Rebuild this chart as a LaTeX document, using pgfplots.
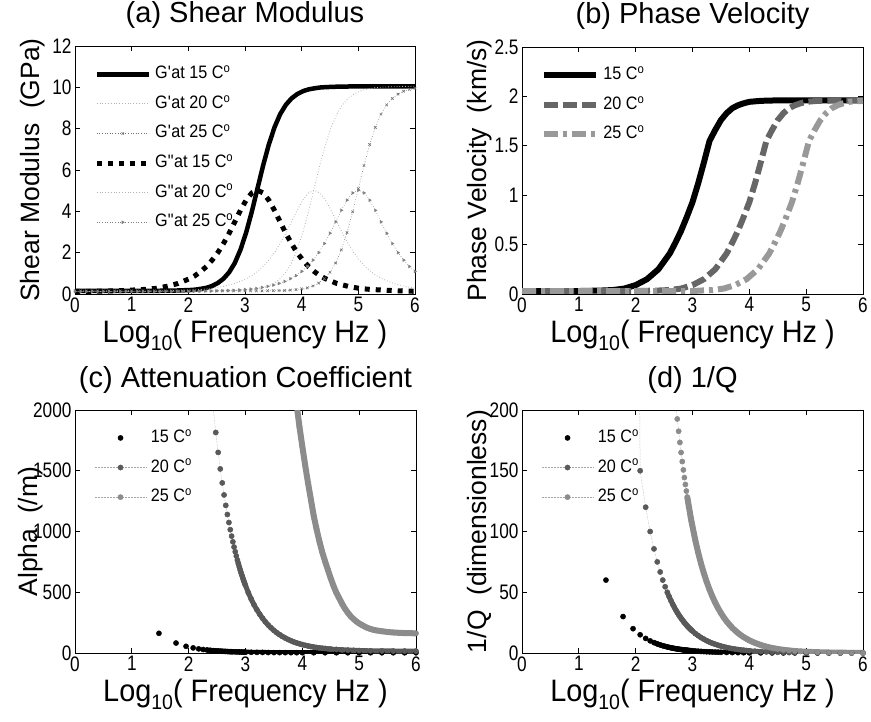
\documentclass[border=0pt]{standalone}
\usepackage{fontspec}
\setmainfont{Liberation Sans}
\newfontfamily\tickfont{Liberation Sans}[FakeStretch=0.82]
\newfontfamily\xlabfont{Liberation Sans}[FakeStretch=0.93]
\newfontfamily\legfont{Liberation Sans}[FakeStretch=0.9]
\usepackage{pgfplots}
\pgfplotsset{compat=1.18}
\newcommand{\xlab}{Log\raisebox{-8pt}{\fontsize{21}{21}\selectfont 10}( Frequency Hz )}
\pgfplotsset{
 myaxis/.style={
  scale only axis, anchor=south west,
  xmin=0, xmax=6, xtick={0,1,2,3,4,5,6},
  tick align=inside, major tick length=5pt,
  axis line style={line width=0.8pt},
  every tick/.style={line width=0.8pt, black},
  tick label style={font=\tickfont\fontsize{21}{21}\selectfont},
  /pgf/number format/assume math mode=true,
  /pgf/number format/1000 sep={},
  scaled ticks=false,
  xlabel={\xlab},
  xlabel style={font=\xlabfont\fontsize{31}{31}\selectfont, at={(axis description cs:0.5,0)}, anchor=base, yshift=-49pt},
  ylabel style={font=\fontsize{26.5}{26.5}\selectfont, anchor=base},
  title style={font=\fontsize{29}{29}\selectfont, at={(axis description cs:0.5,1)}, anchor=base, yshift=17pt},
  legend style={draw=none, fill=none, anchor=north west, at={(axis description cs:0.056,0.925)},
    font=\legfont\fontsize{18}{18}\selectfont, inner sep=0pt, row sep=10.6pt, column sep=3pt,
    nodes={inner sep=1pt, text height=13pt, text depth=4pt}},
  legend cell align=left,
  legend image code/.code={\draw[mark repeat=2,mark phase=2,#1] plot coordinates {(0pt,0pt) (26pt,0pt) (52pt,0pt)};},
 },
 dotleg/.style={legend image code/.code={\draw[#1] plot coordinates {(26pt,0pt)};}},
}
\begin{document}
\begin{tikzpicture}
\path[use as bounding box] (0pt,0pt) rectangle (871pt,721pt);

% ---------------- (a)
\begin{axis}[myaxis, at={(75pt,427pt)}, width=340pt, height=248pt,
  ymin=0, ymax=12, ytick={0,2,4,6,8,10,12},
  ylabel={Shear Modulus\ \ (GPa)},
  ylabel style={at={(axis description cs:-0.105,0.5)}},
  title={(a) Shear Modulus}]
\addplot[black, line width=4.5pt, line join=round] coordinates {
(0,0.15) (0.72,0.15) (1.22,0.15) (1.62,0.16) (1.82,0.17) (2.02,0.19) (2.12,0.21) (2.22,0.25) (2.32,0.30) (2.42,0.39) (2.52,0.53) (2.62,0.74) (2.72,1.05) (2.82,1.50) (2.92,2.14) (3.02,2.97) (3.12,3.98) (3.22,5.10) (3.32,6.22) (3.42,7.23) (3.52,8.06) (3.62,8.70) (3.72,9.15) (3.82,9.46) (3.92,9.67) (4.02,9.81) (4.12,9.90) (4.22,9.95) (4.32,9.99) (4.42,10.01) (4.62,10.03) (4.82,10.04) (5.22,10.05) (6,10.05)};
\addlegendentry{G\textquotesingle at 15 C\textsuperscript{o}}
\addplot[black!30, line width=0.8pt, dotted] coordinates {
(0,0.15) (1,0.15) (2.22,0.15) (2.62,0.16) (2.82,0.17) (3.02,0.19) (3.12,0.21) (3.22,0.25) (3.32,0.30) (3.42,0.39) (3.52,0.53) (3.62,0.74) (3.72,1.05) (3.82,1.50) (3.92,2.14) (4.02,2.97) (4.12,3.98) (4.22,5.10) (4.32,6.22) (4.42,7.23) (4.52,8.06) (4.62,8.70) (4.72,9.15) (4.82,9.46) (4.92,9.67) (5.02,9.81) (5.12,9.90) (5.22,9.95) (5.32,9.99) (5.42,10.01) (5.62,10.03) (5.82,10.04) (6,10.05)};
\addlegendentry{G\textquotesingle at 20 C\textsuperscript{o}}
\addplot[black!55, line width=0.6pt, dotted, mark=x, mark size=1.8pt, mark options={solid}] coordinates {
(0,0.15) (0.1,0.15) (0.2,0.15) (0.3,0.15) (0.4,0.15) (0.5,0.15) (0.6,0.15) (0.7,0.15) (0.8,0.15) (0.9,0.15) (1.0,0.15) (1.1,0.15) (1.2,0.15) (1.3,0.15) (1.4,0.15) (1.5,0.15) (1.6,0.15) (1.7,0.15) (1.8,0.15) (1.9,0.15) (2.0,0.15) (2.1,0.15) (2.2,0.15) (2.3,0.15) (2.4,0.15) (2.5,0.15) (2.6,0.15) (2.7,0.15) (2.8,0.15) (2.9,0.15) (3.0,0.15) (3.1,0.15) (3.2,0.15) (3.3,0.15) (3.4,0.16) (3.5,0.16) (3.6,0.17) (3.7,0.17) (3.8,0.19) (3.9,0.21) (4.0,0.25) (4.1,0.30) (4.2,0.39) (4.3,0.53) (4.4,0.74) (4.5,1.05) (4.6,1.50) (4.7,2.14) (4.8,2.97) (4.9,3.98) (5.0,5.10) (5.1,6.22) (5.2,7.23) (5.3,8.06) (5.4,8.70) (5.5,9.15) (5.6,9.46) (5.7,9.67) (5.8,9.81) (5.9,9.90) (6.0,9.95)};
\addlegendentry{G\textquotesingle at 25 C\textsuperscript{o}}
\addplot[black, line width=5pt, dash pattern=on 5pt off 6pt] coordinates {
(0,0.12) (0.22,0.13) (0.72,0.15) (1.22,0.22) (1.42,0.27) (1.62,0.37) (1.82,0.51) (2.02,0.74) (2.12,0.89) (2.22,1.09) (2.32,1.33) (2.42,1.64) (2.52,2.00) (2.62,2.44) (2.72,2.94) (2.82,3.49) (2.92,4.05) (3.02,4.54) (3.12,4.89) (3.22,5.02) (3.32,4.89) (3.42,4.54) (3.52,4.05) (3.62,3.49) (3.72,2.94) (3.82,2.44) (3.92,2.00) (4.02,1.64) (4.12,1.33) (4.22,1.09) (4.32,0.89) (4.42,0.74) (4.62,0.51) (4.82,0.37) (5.02,0.27) (5.22,0.22) (5.72,0.15) (6,0.13)};
\addlegendentry{G\textquotedbl at 15 C\textsuperscript{o}}
\addplot[black!30, line width=0.8pt, dotted] coordinates {
(0,0.12) (1.22,0.13) (1.72,0.15) (2.22,0.22) (2.42,0.27) (2.62,0.37) (2.82,0.51) (3.02,0.74) (3.12,0.89) (3.22,1.09) (3.32,1.33) (3.42,1.64) (3.52,2.00) (3.62,2.44) (3.72,2.94) (3.82,3.49) (3.92,4.05) (4.02,4.54) (4.12,4.89) (4.22,5.02) (4.32,4.89) (4.42,4.54) (4.52,4.05) (4.62,3.49) (4.72,2.94) (4.82,2.44) (4.92,2.00) (5.02,1.64) (5.12,1.33) (5.22,1.09) (5.32,0.89) (5.42,0.74) (5.62,0.51) (5.82,0.37) (6,0.28)};
\addlegendentry{G\textquotedbl at 20 C\textsuperscript{o}}
\addplot[black!50, line width=0.6pt, dotted, mark=triangle*, mark size=1.5pt, mark options={solid, rotate=-90}] coordinates {
(0,0.12) (0.1,0.12) (0.2,0.12) (0.3,0.12) (0.4,0.12) (0.5,0.12) (0.6,0.12) (0.7,0.12) (0.8,0.12) (0.9,0.12) (1.0,0.12) (1.1,0.12) (1.2,0.12) (1.3,0.12) (1.4,0.12) (1.5,0.12) (1.6,0.12) (1.7,0.12) (1.8,0.12) (1.9,0.12) (2.0,0.13) (2.1,0.13) (2.2,0.13) (2.3,0.14) (2.4,0.14) (2.5,0.15) (2.6,0.16) (2.7,0.17) (2.8,0.18) (2.9,0.20) (3.0,0.22) (3.1,0.24) (3.2,0.27) (3.3,0.32) (3.4,0.37) (3.5,0.43) (3.6,0.51) (3.7,0.61) (3.8,0.74) (3.9,0.89) (4.0,1.09) (4.1,1.33) (4.2,1.64) (4.3,2.00) (4.4,2.44) (4.5,2.94) (4.6,3.49) (4.7,4.05) (4.8,4.54) (4.9,4.89) (5.0,5.02) (5.1,4.89) (5.2,4.54) (5.3,4.05) (5.4,3.49) (5.5,2.94) (5.6,2.44) (5.7,2.00) (5.8,1.64) (5.9,1.33) (6.0,1.09)};
\addlegendentry{G\textquotedbl at 25 C\textsuperscript{o}}
\end{axis}

% ---------------- (b)
\begin{axis}[myaxis, at={(522pt,427pt)}, width=341pt, height=247pt,
  ymin=0, ymax=2.5, ytick={0,0.5,1,1.5,2,2.5},
  ylabel={Phase Velocity\ \ (km/s)},
  ylabel style={at={(axis description cs:-0.105,0.5)}},
  title={(b) Phase Velocity}]
\addplot[black, line width=6pt, line join=round] coordinates {
(0,0.03) (0.5,0.03) (1.0,0.03) (1.4,0.035) (1.6,0.04) (1.8,0.055) (2.0,0.09) (2.2,0.15) (2.4,0.25) (2.6,0.41) (2.7,0.52) (2.8,0.64) (2.9,0.78) (3.0,0.93) (3.1,1.12) (3.2,1.33) (3.3,1.55) (3.4,1.66) (3.5,1.76) (3.6,1.83) (3.7,1.88) (3.8,1.91) (3.9,1.93) (4.0,1.945) (4.2,1.955) (4.5,1.96) (5.0,1.96) (6.0,1.96)};
\addlegendentry{15 C\textsuperscript{o}}
\addplot[black!60, line width=6pt, dash pattern=on 14pt off 5pt] coordinates {
(0,0.03) (1.0,0.03) (2.0,0.03) (2.4,0.035) (2.6,0.04) (2.8,0.055) (3.0,0.09) (3.2,0.15) (3.4,0.25) (3.6,0.41) (3.7,0.52) (3.8,0.64) (3.9,0.78) (4.0,0.93) (4.1,1.12) (4.2,1.33) (4.3,1.55) (4.4,1.66) (4.5,1.76) (4.6,1.83) (4.7,1.88) (4.8,1.91) (4.9,1.93) (5.0,1.945) (5.2,1.955) (5.5,1.96) (6.0,1.96)};
\addlegendentry{20 C\textsuperscript{o}}
\addplot[black!40, line width=6pt, dash pattern=on 14pt off 5pt on 4pt off 5pt] coordinates {
(0,0.03) (2.0,0.03) (3.0,0.03) (3.15,0.035) (3.35,0.04) (3.55,0.055) (3.75,0.09) (3.95,0.15) (4.15,0.25) (4.35,0.41) (4.45,0.52) (4.55,0.64) (4.65,0.78) (4.75,0.93) (4.85,1.12) (4.95,1.33) (5.05,1.55) (5.15,1.66) (5.25,1.76) (5.35,1.83) (5.45,1.88) (5.55,1.91) (5.65,1.93) (5.75,1.945) (6.0,1.955)};
\addlegendentry{25 C\textsuperscript{o}}
\end{axis}

% ---------------- (c)
\begin{axis}[myaxis, at={(75pt,68pt)}, width=341pt, height=243pt,
  ymin=0, ymax=2000, ytick={0,500,1000,1500,2000},
  ylabel={Alpha\ \ (/m)},
  ylabel style={at={(axis description cs:-0.11,0.5)}},
  xlabel style={yshift=1pt},
  title={(c) Attenuation Coefficient}]
\addplot[only marks, mark=*, mark size=2.6pt, black, dotleg] coordinates {
(1.477,162) (1.778,82) (1.954,55) (2.079,42) (2.176,34) (2.255,28.7) (2.322,24.9) (2.380,22) (2.431,19.8) (2.477,18) (2.519,16.5) (2.556,15.3) (2.591,14.3) (2.623,13.4) (2.653,12.7) (2.681,12) (2.708,11.4) (2.732,10.9) (2.756,10.4) (2.778,10) (2.820,9.3) (2.857,8.7) (2.892,8.2) (2.924,7.7) (2.954,7.3) (2.982,7.0) (3.0,6.8) (3.1,5.8) (3.2,5.0) (3.3,4.4) (3.4,3.9) (3.5,3.5) (3.6,3.2) (3.7,3.0) (3.8,2.8) (3.9,2.6) (4.0,2.5) (4.2,2.3) (4.4,2.2) (4.6,2.1) (4.8,2.1) (5.0,2.05) (5.2,2.0) (5.4,2.0) (5.6,2.0) (5.8,2.0) (6.0,2.0)};
\addlegendentry{15 C\textsuperscript{o}}
\addplot[black!35, line width=0.5pt, densely dotted, mark=*, mark size=2.6pt, mark options={solid, fill=black!65, draw=black!65}] coordinates {
(2.431,2015) (2.477,1815) (2.519,1651) (2.556,1515) (2.591,1400) (2.623,1301) (2.653,1215) (2.681,1140) (2.708,1074) (2.732,1015) (2.756,962) (2.778,915) (2.799,872) (2.820,833) (2.839,798) (2.857,765) (2.875,735) (2.892,707) (2.908,682) (2.924,658) (2.940,636) (2.954,615) (2.968,596) (2.982,578) (2.996,560) (3.05,496) (3.1,444) (3.15,397) (3.2,356) (3.25,319) (3.3,286) (3.35,256) (3.4,230) (3.45,207) (3.5,186) (3.55,167) (3.6,151) (3.65,136) (3.7,123) (3.75,111) (3.8,101) (3.85,91) (3.9,83) (3.95,76) (4.0,69) (4.05,63) (4.1,58) (4.15,53) (4.2,49) (4.25,45) (4.3,42) (4.35,39) (4.4,37) (4.45,34) (4.5,32) (4.6,29) (4.7,26) (4.8,24) (4.9,22) (5.0,20) (5.2,18) (5.4,17) (5.6,16.4) (5.8,16) (6.0,15.5)};
\addlegendentry{20 C\textsuperscript{o}}
\addplot[black!35, line width=0.5pt, densely dotted, mark=*, mark size=2.6pt, mark options={solid, fill=black!45, draw=black!45}] coordinates {
(3.88,2150) (3.90,2040) (3.95,1860) (4.00,1700) (4.05,1545) (4.10,1400) (4.15,1265) (4.20,1130) (4.25,1020) (4.30,920) (4.35,830) (4.40,755) (4.45,685) (4.50,615) (4.55,550) (4.60,495) (4.65,450) (4.70,405) (4.75,365) (4.80,332) (4.85,303) (4.90,280) (4.95,260) (5.00,243) (5.05,230) (5.10,217) (5.15,206) (5.20,198) (5.25,191) (5.30,186) (5.40,179) (5.50,173) (5.60,169) (5.70,166) (5.80,164) (5.90,163) (6.00,162)};
\addlegendentry{25 C\textsuperscript{o}}
\addplot[black, line width=5pt, forget plot] coordinates {
(2.322,24.9) (2.380,22) (2.431,19.8) (2.477,18) (2.556,15.3) (2.623,13.4) (2.681,12) (2.732,10.9) (2.778,10) (2.857,8.7) (2.924,7.7) (3.0,6.8) (3.2,5.0) (3.4,3.9) (3.6,3.2) (3.8,2.8) (4.0,2.5) (4.5,2.15) (5.0,2.05) (6.0,2.0)};
\addplot[black!65, line width=5pt, forget plot] coordinates {
(2.857,765) (2.892,707) (2.924,658) (2.954,615) (2.982,578) (3.05,496) (3.1,444) (3.15,397) (3.2,356) (3.25,319) (3.3,286) (3.35,256) (3.4,230) (3.45,207) (3.5,186) (3.55,167) (3.6,151) (3.65,136) (3.7,123) (3.75,111) (3.8,101) (3.85,91) (3.9,83) (3.95,76) (4.0,69) (4.1,58) (4.2,49) (4.3,42) (4.4,37) (4.5,32) (4.6,29) (4.7,26) (4.8,24) (4.9,22) (5.0,20) (5.2,18) (5.4,17) (5.6,16.4) (5.8,16) (6.0,15.5)};
\addplot[black!45, line width=6pt, forget plot] coordinates {
(3.88,2150) (3.90,2040) (3.95,1860) (4.00,1700) (4.05,1545) (4.10,1400) (4.15,1265) (4.20,1130) (4.25,1020) (4.30,920) (4.35,830) (4.40,755) (4.45,685) (4.50,615) (4.55,550) (4.60,495) (4.65,450) (4.70,405) (4.75,365) (4.80,332) (4.85,303) (4.90,280) (4.95,260) (5.00,243) (5.05,230) (5.10,217) (5.15,206) (5.20,198) (5.25,191) (5.30,186) (5.40,179) (5.50,173) (5.60,169) (5.70,166) (5.80,164) (5.90,163) (6.00,162)};
\end{axis}

% ---------------- (d)
\begin{axis}[myaxis, at={(522pt,68pt)}, width=341pt, height=243pt,
  ymin=0, ymax=200, ytick={0,50,100,150,200},
  ylabel={1/Q\ \ (dimensionless)},
  ylabel style={at={(axis description cs:-0.105,0.5)}},
  xlabel style={yshift=1pt},
  title={(d) 1/Q}]
\addplot[only marks, mark=*, mark size=2.6pt, black, dotleg] coordinates {
(1.477,60) (1.778,30) (1.954,20) (2.079,15) (2.176,12) (2.255,10) (2.322,8.57) (2.380,7.5) (2.431,6.67) (2.477,6) (2.519,5.45) (2.556,5) (2.591,4.62) (2.623,4.29) (2.653,4) (2.681,3.75) (2.708,3.53) (2.732,3.33) (2.756,3.16) (2.778,3) (2.799,2.86) (2.820,2.73) (2.839,2.61) (2.857,2.5) (2.875,2.4) (2.892,2.31) (2.908,2.22) (2.924,2.14) (2.940,2.07) (2.954,2) (2.968,1.94) (2.982,1.88) (2.996,1.82) (3.05,1.6) (3.1,1.43) (3.15,1.27) (3.2,1.14) (3.25,1.01) (3.3,0.9) (3.35,0.8) (3.4,0.72) (3.45,0.64) (3.5,0.57) (3.6,0.45) (3.7,0.36) (3.8,0.29) (3.9,0.23) (4.0,0.18) (4.2,0.11) (4.4,0.07) (4.6,0.05) (4.8,0.03) (5.0,0.02) (5.2,0.01) (5.4,0.01) (5.6,0) (5.8,0) (6.0,0)};
\addlegendentry{15 C\textsuperscript{o}}
\addplot[black!35, line width=0.5pt, densely dotted, mark=*, mark size=2.6pt, mark options={solid, fill=black!65, draw=black!65}] coordinates {
(2.04,400) (2.079,150) (2.176,120) (2.255,100) (2.322,85.7) (2.380,75) (2.431,66.7) (2.477,60) (2.519,54.5) (2.556,50) (2.591,46.2) (2.623,42.9) (2.653,40) (2.681,37.5) (2.708,35.3) (2.732,33.3) (2.756,31.6) (2.778,30) (2.799,28.6) (2.820,27.3) (2.839,26.1) (2.857,25) (2.875,24) (2.892,23.1) (2.908,22.2) (2.924,21.4) (2.940,20.7) (2.954,20) (2.968,19.4) (2.982,18.75) (2.996,18.2) (3.05,16) (3.1,14.3) (3.15,12.7) (3.2,11.4) (3.25,10.1) (3.3,9.0) (3.35,8.0) (3.4,7.2) (3.45,6.4) (3.5,5.7) (3.55,5.1) (3.6,4.5) (3.65,4.0) (3.7,3.6) (3.75,3.2) (3.8,2.85) (3.85,2.5) (3.9,2.3) (3.95,2.0) (4.0,1.8) (4.1,1.4) (4.2,1.1) (4.3,0.9) (4.4,0.7) (4.5,0.57) (4.6,0.45) (4.7,0.36) (4.8,0.29) (5.0,0.18) (5.2,0.11) (5.4,0.07) (5.6,0.05) (5.8,0.03) (6.0,0.02)};
\addlegendentry{20 C\textsuperscript{o}}
\addplot[black!35, line width=0.5pt, densely dotted, mark=*, mark size=2.6pt, mark options={solid, fill=black!45, draw=black!45}] coordinates {
(2.708,204) (2.732,192.6) (2.756,182.5) (2.778,173.3) (2.799,165) (2.820,157.6) (2.839,150.7) (2.857,144.4) (2.875,138.7) (2.892,133.3) (2.908,128.4) (2.924,123.8) (2.940,119.5) (2.954,115.6) (2.968,111.8) (2.982,108.3) (2.996,105.1) (3.05,92.7) (3.1,82.6) (3.15,73.6) (3.2,65.6) (3.25,58.5) (3.3,52.1) (3.35,46.5) (3.4,41.4) (3.45,36.9) (3.5,32.9) (3.55,29.3) (3.6,26.1) (3.65,23.3) (3.7,20.7) (3.75,18.5) (3.8,16.5) (3.85,14.7) (3.9,13.1) (3.95,11.7) (4.0,10.4) (4.05,9.3) (4.1,8.3) (4.15,7.4) (4.2,6.6) (4.25,5.8) (4.3,5.2) (4.35,4.6) (4.4,4.1) (4.45,3.7) (4.5,3.3) (4.6,2.6) (4.7,2.1) (4.8,1.6) (4.9,1.3) (5.0,1.0) (5.2,0.66) (5.4,0.41) (5.6,0.26) (5.8,0.16) (6.0,0.1)};
\addlegendentry{25 C\textsuperscript{o}}
\addplot[black, line width=5pt, forget plot] coordinates {
(2.322,8.57) (2.380,7.5) (2.431,6.67) (2.477,6) (2.556,5) (2.623,4.29) (2.681,3.75) (2.732,3.33) (2.778,3) (2.857,2.5) (2.924,2.14) (2.996,1.82) (3.1,1.43) (3.2,1.14) (3.3,0.9) (3.4,0.72) (3.5,0.57) (3.7,0.36) (3.9,0.23) (4.2,0.11) (4.6,0.05) (5.0,0.02) (6.0,0)};
\addplot[black!65, line width=5pt, forget plot] coordinates {
(2.556,50) (2.591,46.2) (2.623,42.9) (2.653,40) (2.681,37.5) (2.708,35.3) (2.732,33.3) (2.778,30) (2.820,27.3) (2.857,25) (2.892,23.1) (2.924,21.4) (2.954,20) (2.996,18.2) (3.05,16) (3.1,14.3) (3.15,12.7) (3.2,11.4) (3.25,10.1) (3.3,9.0) (3.4,7.2) (3.5,5.7) (3.6,4.5) (3.7,3.6) (3.8,2.85) (3.9,2.3) (4.0,1.8) (4.2,1.1) (4.4,0.7) (4.6,0.45) (5.0,0.18) (5.4,0.07) (6.0,0.02)};
\addplot[black!45, line width=6pt, forget plot] coordinates {
(2.908,128.4) (2.924,123.8) (2.940,119.5) (2.954,115.6) (2.968,111.8) (2.982,108.3) (2.996,105.1) (3.05,92.7) (3.1,82.6) (3.15,73.6) (3.2,65.6) (3.25,58.5) (3.3,52.1) (3.35,46.5) (3.4,41.4) (3.45,36.9) (3.5,32.9) (3.55,29.3) (3.6,26.1) (3.65,23.3) (3.7,20.7) (3.75,18.5) (3.8,16.5) (3.85,14.7) (3.9,13.1) (3.95,11.7) (4.0,10.4) (4.1,8.3) (4.2,6.6) (4.3,5.2) (4.4,4.1) (4.5,3.3) (4.6,2.6) (4.7,2.1) (4.8,1.6) (5.0,1.0) (5.2,0.66) (5.4,0.41) (5.6,0.26) (5.8,0.16) (6.0,0.1)};
\end{axis}
\end{tikzpicture}
\end{document}
